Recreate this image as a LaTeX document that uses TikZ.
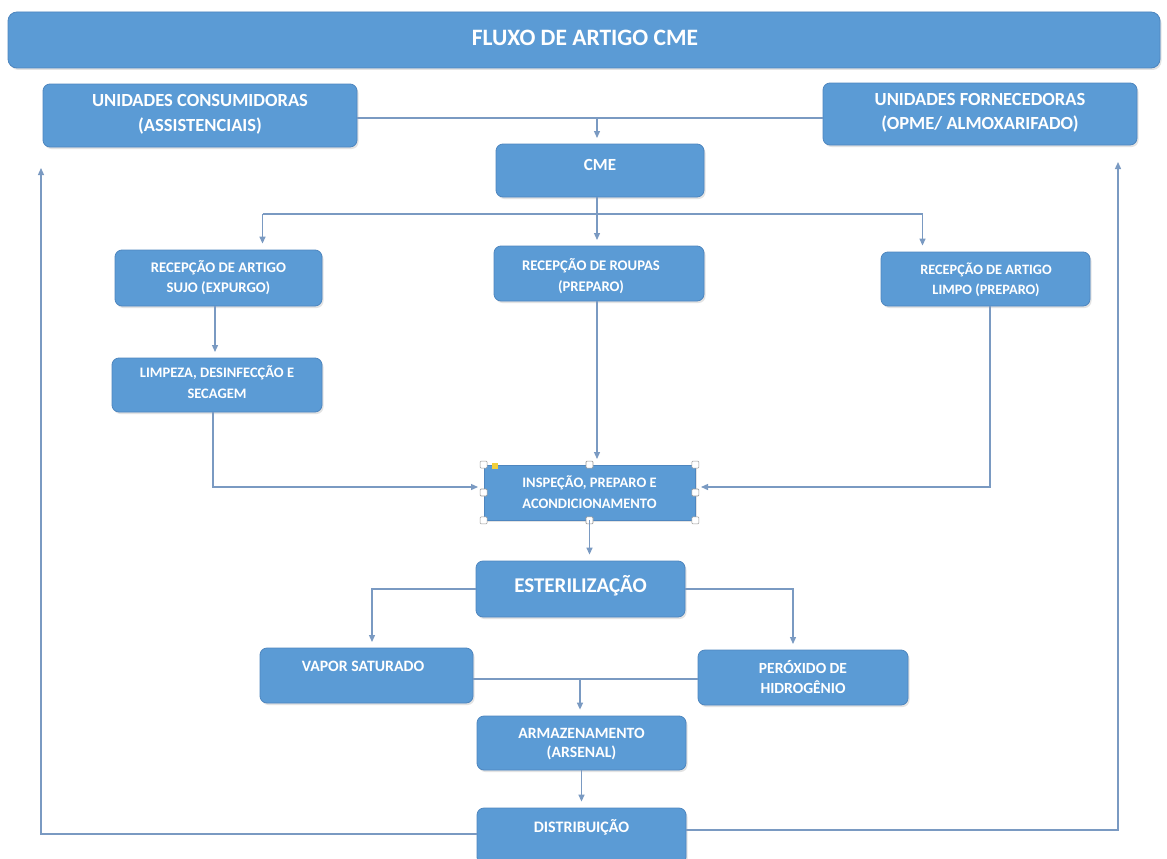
\documentclass[tikz,border=0pt]{standalone}
\usepackage{fontspec}
\setmainfont{Carlito}
\usetikzlibrary{arrows.meta,calc,shadows}
\definecolor{boxblue}{HTML}{5B9BD5}
\definecolor{boxedge}{HTML}{4E86BF}
\definecolor{linecol}{HTML}{7A9AC2}
\definecolor{handlegray}{HTML}{9A9A9A}
\definecolor{handleyellow}{HTML}{F2CF3A}
\begin{document}
\begin{tikzpicture}[x=1pt,y=-1pt,
  box/.style={draw=boxedge, line width=0.8pt, fill=boxblue, rounded corners=7pt, inner sep=0pt,
    drop shadow={shadow xshift=1.5pt, shadow yshift=-2pt, opacity=0.22}},
  sqbox/.style={box, rounded corners=0pt},
  txt/.style={text=white, align=center, inner sep=0pt},
  conn/.style={draw=linecol, line width=1.3pt},
  arr/.style={conn, -{Triangle[width=6pt,length=7pt]}, shorten >=6pt},
  handle/.style={draw=handlegray, fill=white, line width=0.6pt, minimum size=7pt, inner sep=0pt, rounded corners=1pt}
]
\useasboundingbox (0,0) rectangle (1167,859);
\fill[white] (0,0) rectangle (1167,859);

% boxes
\node[box, minimum width=1152pt, minimum height=56pt, rounded corners=9pt] (title) at (584,40) {};
\node[txt, font=\bfseries\fontsize{23.5}{26}\selectfont] (titlet) at (585,38) {FLUXO DE ARTIGO CME};

\node[box, minimum width=314pt, minimum height=63pt] (uc) at (200,115.5) {};
\node[txt, font=\bfseries\fontsize{18.5}{25}\selectfont] (uct) at (200,114) {UNIDADES CONSUMIDORAS\\(ASSISTENCIAIS)};

\node[box, minimum width=314pt, minimum height=62pt] (uf) at (980,114) {};
\node[txt, font=\bfseries\fontsize{18.5}{24}\selectfont] (uft) at (980,113) {UNIDADES FORNECEDORAS\\(OPME/ ALMOXARIFADO)};

\node[box, minimum width=208pt, minimum height=53pt] (cme) at (600,170.5) {};
\node[txt, font=\bfseries\fontsize{17}{20}\selectfont] (cmet) at (600,165) {CME};

\node[box, minimum width=207pt, minimum height=56pt] (sujo) at (218.5,278) {};
\node[txt, font=\bfseries\fontsize{14.7}{20}\selectfont] (sujot) at (218.5,277.5) {RECEPÇÃO DE ARTIGO\\SUJO (EXPURGO)};

\node[box, minimum width=210pt, minimum height=55pt] (roupas) at (599,273.5) {};
\node[txt, font=\bfseries\fontsize{14.7}{21}\selectfont] (roupast) at (591,276) {RECEPÇÃO DE ROUPAS\\(PREPARO)};

\node[box, minimum width=209pt, minimum height=54pt] (limpo) at (985.5,279) {};
\node[txt, font=\bfseries\fontsize{14.3}{20}\selectfont] (limpot) at (986,280) {RECEPÇÃO DE ARTIGO\\LIMPO (PREPARO)};

\node[box, minimum width=210pt, minimum height=54pt] (limpeza) at (217,385) {};
\node[txt, font=\bfseries\fontsize{14.5}{21}\selectfont] (limpezat) at (217,382) {LIMPEZA, DESINFECÇÃO E\\SECAGEM};

\node[sqbox, minimum width=211pt, minimum height=55pt] (insp) at (589.5,492.5) {};
\node[txt, font=\bfseries\fontsize{14.5}{21}\selectfont] (inspt) at (589.5,492) {INSPEÇÃO, PREPARO E\\ACONDICIONAMENTO};

\node[box, minimum width=209pt, minimum height=56pt] (ester) at (580.5,589) {};
\node[txt, font=\bfseries\fontsize{21}{22}\selectfont] (estert) at (580.5,586) {ESTERILIZAÇÃO};

\node[box, minimum width=213pt, minimum height=55pt] (vapor) at (366.5,675.5) {};
\node[txt, font=\bfseries\fontsize{15.8}{20}\selectfont] (vaport) at (363,666) {VAPOR SATURADO};

\node[box, minimum width=210pt, minimum height=55pt] (perox) at (803,677.5) {};
\node[txt, font=\bfseries\fontsize{15.5}{20}\selectfont] (peroxt) at (803,677) {PERÓXIDO DE\\HIDROGÊNIO};

\node[box, minimum width=209pt, minimum height=54pt] (armaz) at (581.5,743) {};
\node[txt, font=\bfseries\fontsize{15.7}{19}\selectfont] (armazt) at (581.5,744.5) {ARMAZENAMENTO\\(ARSENAL)};

\node[box, minimum width=209pt, minimum height=56pt] (dist) at (581.5,836) {};
\node[txt, font=\bfseries\fontsize{16}{20}\selectfont] (distt) at (581.5,827) {DISTRIBUIÇÃO};

% selection handles around insp
\foreach \a in {north west,north,north east,east,south east,south,south west,west}
  \node[handle] at (insp.\a) {};
\fill[handleyellow] (492,463) rectangle (498,469);

% coordinates
\coordinate (branch) at (597,214);
\coordinate (sujoIn) at ($(sujo.north)+(44,0)$);
\coordinate (limpoIn) at ($(limpo.north)+(-63,0)$);
\coordinate (loopL) at (41,168);
\coordinate (loopR) at (1118,162);
\coordinate (midVP) at (580,679);

% connectors
\draw[conn] (uc.east |- 0,118) -- (uf.west |- 0,118);
\draw[arr] (597,118) -- (597,144);
\draw[conn] (597,197) -- (branch);
\draw[conn] (sujoIn |- branch) -- (limpoIn |- branch);
\draw[arr] (sujoIn |- branch) -- (sujoIn);
\draw[arr] (branch) -- (597,246);
\draw[arr] (limpoIn |- branch) -- (limpoIn);

\draw[arr] (215,306) -- (215,358);
\draw[arr] (597,301) -- (597,465);
\draw[arr] (213,412) |- (484,487);
\draw[arr] (990,306) |- (695,487);

\draw[arr] (insp.south) -- (insp.south |- ester.north);
\draw[arr] (ester.west) -| (372,648);
\draw[arr] (ester.east) -| (793,650);
\draw[conn] (vapor.east |- midVP) -- (perox.west |- midVP);
\draw[arr] (midVP) -- (midVP |- armaz.north);
\draw[arr] (armaz.south) -- (dist.north);

\draw[conn, -{Triangle[width=6pt,length=7pt]}] (dist.west |- 0,834) -| (loopL);
\draw[conn, -{Triangle[width=6pt,length=7pt]}] (dist.east |- 0,830) -| (loopR);
\end{tikzpicture}
\end{document}
